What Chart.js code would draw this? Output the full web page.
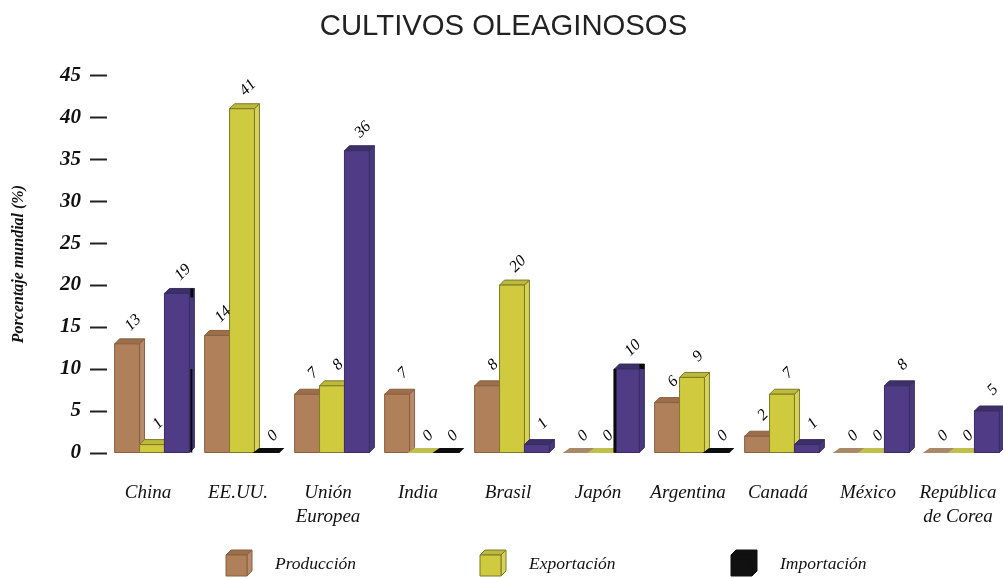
<!DOCTYPE html>
<html>
<head>
<meta charset="utf-8">
<style>
html, body { margin: 0; padding: 0; background: #fff; overflow: hidden; }
#wrap { width: 1012px; height: 578px; }
</style>
<script src="https://cdn.jsdelivr.net/npm/chart.js@4"></script>
</head>
<body>
<div id="wrap"><canvas id="chart"></canvas></div>
<script>
const countries = ['China', 'EE.UU.', ['Unión', 'Europea'], 'India', 'Brasil', 'Japón', 'Argentina', 'Canadá', 'México', ['República', 'de Corea']];
const produccion = [13, 14, 7, 7, 8, 0, 6, 2, 0, 0];
const exportacion = [1, 41, 8, 0, 20, 0, 9, 7, 0, 0];
const importacion = [19, 0, 36, 0, 1, 10, 0, 1, 8, 5];

const DEPTH = 5;
const palette = [
    { front: '#b0805a', side: '#b58c6c', top: '#9c6f4a', flat: '#a98a68', edge: '#8a6040' },
    { front: '#cfca3e', side: '#d6d25a', top: '#bdb93c', flat: '#c2c04c', edge: '#7d7a26' },
    { front: '#503c86', side: '#463a7c', top: '#3c3068', flat: '#0d0d0d', edge: '#3a2c62' }
];

function poly(ctx, pts, fill, stroke) {
    ctx.beginPath();
    pts.forEach((p, i) => i ? ctx.lineTo(p[0], p[1]) : ctx.moveTo(p[0], p[1]));
    ctx.closePath();
    ctx.fillStyle = fill;
    ctx.fill();
    if (stroke) {
        ctx.strokeStyle = stroke;
        ctx.lineWidth = 1;
        ctx.stroke();
    }
}

function drawBox(ctx, left, right, top, bottom, c) {
    poly(ctx, [[right, top], [right + DEPTH, top - DEPTH], [right + DEPTH, bottom - DEPTH], [right, bottom]], c.side, c.edge);
    poly(ctx, [[left, top], [left + DEPTH, top - DEPTH], [right + DEPTH, top - DEPTH], [right, top]], c.top, c.edge);
    poly(ctx, [[left, top], [right, top], [right, bottom], [left, bottom]], c.front, c.edge);
}

// the bars get a side and a top, painted left to right so each one covers its neighbour's side
const bars3d = {
    id: 'bars3d',
    afterDatasetsDraw(chart) {
        const ctx = chart.ctx;
        ctx.save();
        chart.data.datasets.forEach((ds, d) => {
            const c = palette[d];
            chart.getDatasetMeta(d).data.forEach((bar, i) => {
                const left = bar.x - bar.width / 2;
                const right = bar.x + bar.width / 2;
                if (ds.data[i] === 0) {
                    poly(ctx, [[left - 2, bar.base], [right, bar.base], [right + DEPTH, bar.base - DEPTH], [left + DEPTH, bar.base - DEPTH]], c.flat);
                } else {
                    drawBox(ctx, left, right, bar.y, bar.base, c);
                }
            });
        });
        // black printing marks on the China and Japón import bars
        const imp = chart.getDatasetMeta(2).data;
        const y10 = chart.scales.y.getPixelForValue(10);
        ctx.fillStyle = '#0a0a0a';
        const china = imp[0];
        const japan = imp[5];
        ctx.fillRect(china.x + china.width / 2 + 1, y10, 2, china.base - y10);
        ctx.fillRect(china.x + china.width / 2 + 1, china.y - DEPTH, 3, 9);
        ctx.fillRect(japan.x - japan.width / 2 - 1, japan.y, 3, japan.base - japan.y);
        ctx.fillRect(japan.x + japan.width / 2, japan.y - DEPTH, 5, 5);
        // value labels, tilted
        ctx.fillStyle = '#000';
        ctx.font = 'italic 16px "Liberation Serif"';
        ctx.textAlign = 'center';
        ctx.textBaseline = 'middle';
        chart.data.datasets.forEach((ds, d) => {
            chart.getDatasetMeta(d).data.forEach((bar, i) => {
                ctx.save();
                ctx.translate(bar.x + 6, bar.y - (ds.data[i] === 0 ? 17 : 21));
                ctx.rotate(-Math.PI / 4);
                ctx.fillText(String(ds.data[i]), 0, 0);
                ctx.restore();
            });
        });
        ctx.restore();
    }
};

const legend3d = {
    id: 'legend3d',
    afterDraw(chart) {
        const ctx = chart.ctx;
        const boxes = [226, 480, 731];
        const colors = [palette[0], palette[1], { front: '#111', side: '#111', top: '#111', edge: '#111' }];
        ctx.save();
        ctx.font = 'italic 17.5px "Liberation Serif"';
        ctx.textBaseline = 'middle';
        ctx.textAlign = 'left';
        chart.data.datasets.forEach((ds, d) => {
            drawBox(ctx, boxes[d], boxes[d] + 21, 555, 576, colors[d]);
            ctx.fillStyle = '#111';
            ctx.fillText(ds.label, boxes[d] + 49, 564);
        });
        ctx.restore();
    }
};

new Chart(document.getElementById('chart'), {
    type: 'bar',
    data: {
        labels: countries,
        datasets: [
            { label: 'Producción', data: produccion, backgroundColor: palette[0].front },
            { label: 'Exportación', data: exportacion, backgroundColor: palette[1].front },
            { label: 'Importación', data: importacion, backgroundColor: palette[2].front }
        ]
    },
    options: {
        responsive: true,
        maintainAspectRatio: false,
        animation: false,
        layout: { padding: { right: 5 } },
        datasets: { bar: { barPercentage: 1, categoryPercentage: 0.83 } },
        plugins: {
            legend: { display: false },
            tooltip: { enabled: false },
            title: {
                display: true,
                text: 'CULTIVOS OLEAGINOSOS',
                color: '#222',
                font: { family: '"Liberation Sans"', size: 29.3, weight: 'normal' },
                padding: { top: 9, bottom: 31 }
            }
        },
        scales: {
            x: {
                grid: { display: false },
                border: { display: false },
                afterFit(scale) {
                    scale.height = 125;
                    scale.paddingLeft = 0;
                    scale.paddingRight = 0;
                },
                ticks: {
                    color: '#111',
                    padding: 20,
                    labelOffset: -4,
                    maxRotation: 0,
                    autoSkip: false,
                    font: { family: '"Liberation Serif"', style: 'italic', size: 19, lineHeight: 1.26 }
                }
            },
            y: {
                min: 0,
                max: 45,
                afterFit(scale) { scale.width = 107; },
                grid: { drawOnChartArea: false, tickLength: 17, tickColor: '#222', tickWidth: 2 },
                border: { display: false },
                ticks: {
                    stepSize: 5,
                    color: '#111',
                    padding: 9,
                    font: { family: '"Liberation Serif"', style: 'italic', weight: 'bold', size: 21 }
                },
                title: {
                    display: true,
                    text: 'Porcentaje mundial (%)',
                    color: '#111',
                    padding: { top: 9, bottom: 0 },
                    font: { family: '"Liberation Serif"', style: 'italic', weight: 'bold', size: 16 }
                }
            }
        }
    },
    plugins: [bars3d, legend3d, { id: 'white', beforeDraw(c) { c.ctx.fillStyle = '#fff'; c.ctx.fillRect(0, 0, c.width, c.height); } }]
});
</script>
</body>
</html>
